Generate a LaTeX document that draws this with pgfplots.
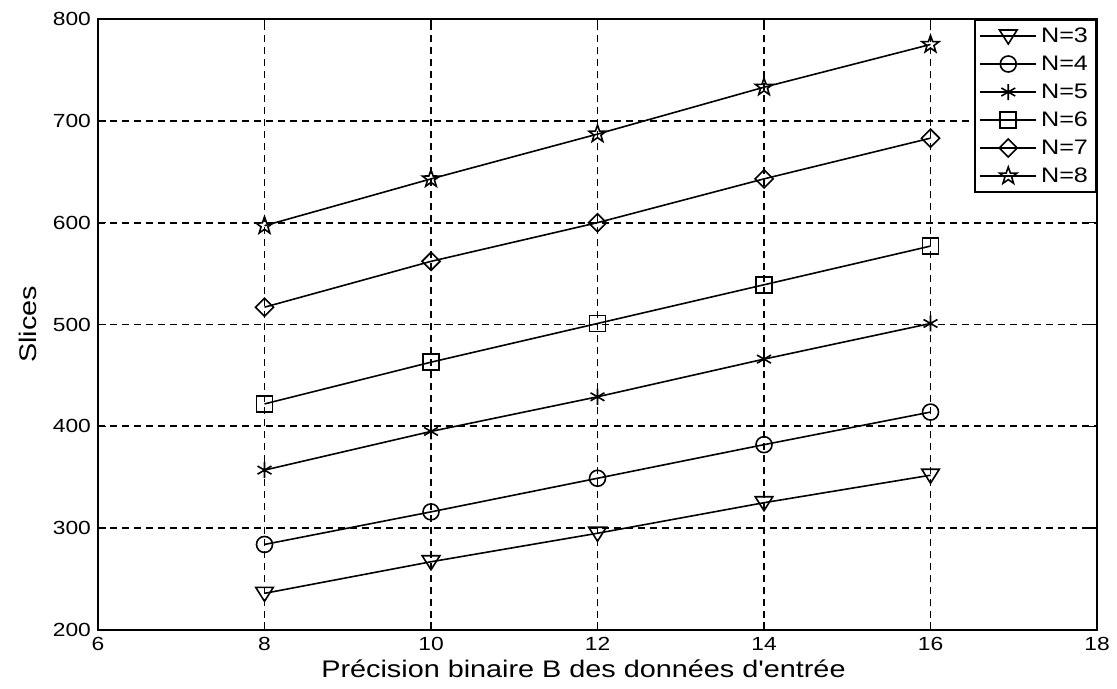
\documentclass[border=0pt]{standalone}
\usepackage{fontspec}
\setmainfont{Liberation Sans}[Ligatures=TeXOff, FakeStretch=1.2]
\usepackage{pgfplots}
\pgfplotsset{compat=1.18}
\pgfdeclareplotmark{pentagram}{%
  \pgfpathmoveto{\pgfpointpolar{90}{\pgfplotmarksize}}%
  \pgfpathlineto{\pgfpointpolar{126}{0.40\pgfplotmarksize}}%
  \pgfpathlineto{\pgfpointpolar{162}{\pgfplotmarksize}}%
  \pgfpathlineto{\pgfpointpolar{198}{0.40\pgfplotmarksize}}%
  \pgfpathlineto{\pgfpointpolar{234}{\pgfplotmarksize}}%
  \pgfpathlineto{\pgfpointpolar{270}{0.40\pgfplotmarksize}}%
  \pgfpathlineto{\pgfpointpolar{306}{\pgfplotmarksize}}%
  \pgfpathlineto{\pgfpointpolar{342}{0.40\pgfplotmarksize}}%
  \pgfpathlineto{\pgfpointpolar{18}{\pgfplotmarksize}}%
  \pgfpathlineto{\pgfpointpolar{54}{0.40\pgfplotmarksize}}%
  \pgfpathclose
  \pgfusepathqstroke
}
\pgfdeclareplotmark{vtriangle}{%
  \pgfpathmoveto{\pgfqpoint{0pt}{-\pgfplotmarksize}}%
  \pgfpathlineto{\pgfqpoint{1.1\pgfplotmarksize}{0.75\pgfplotmarksize}}%
  \pgfpathlineto{\pgfqpoint{-1.1\pgfplotmarksize}{0.75\pgfplotmarksize}}%
  \pgfpathclose
  \pgfusepathqstroke
}
\pgfdeclareplotmark{mdiamond}{%
  \pgfpathmoveto{\pgfqpoint{0pt}{\pgfplotmarksize}}%
  \pgfpathlineto{\pgfqpoint{\pgfplotmarksize}{0pt}}%
  \pgfpathlineto{\pgfqpoint{0pt}{-\pgfplotmarksize}}%
  \pgfpathlineto{\pgfqpoint{-\pgfplotmarksize}{0pt}}%
  \pgfpathclose
  \pgfusepathqstroke
}
\begin{document}
\begin{tikzpicture}
\begin{axis}[
  scale only axis,
  width=499.5pt, height=305.5pt,
  at={(0,0)}, anchor=south west,
  xmin=6, xmax=18, ymin=200, ymax=800,
  xtick={6,8,...,18}, ytick={200,300,...,800},
  axis line style={line width=1pt},
  tick align=inside,
  major tick length=4pt,
  tick style={black, line width=0.8pt},
  grid=major,
  major grid style={black, line width=0.9pt, dash pattern=on 3.5pt off 2.5pt},
  /pgf/number format/assume math mode=true,
  ticklabel style={font=\fontsize{9.5}{11}\selectfont},
  label style={font=\fontsize{12}{14}\selectfont},
  xlabel={Précision binaire B des données d'entrée},
  ylabel={Slices},
  xlabel style={yshift=2pt, xshift=-7pt},
  ylabel style={yshift=1pt},
  every axis plot/.append style={black, line width=0.8pt, mark size=4pt, mark options={solid, line width=0.8pt}},
  legend style={at={(1,1)}, anchor=north east, draw=black, line width=1pt,
    font=\fontsize{10.5}{12}\selectfont, row sep=0pt, inner xsep=2pt, inner ysep=1pt,
    nodes={text height=8pt, text depth=2pt, inner ysep=2pt},
    cells={anchor=west}},
  legend image code/.code={\draw[mark repeat=2,mark phase=2,#1] plot coordinates {(0pt,0pt) (14pt,0pt) (28pt,0pt)};},
]
\addplot[mark=vtriangle] coordinates {(8,236) (10,267) (12,295) (14,325) (16,352)};
\addlegendentry{N=3}
\addplot[mark=o] coordinates {(8,284) (10,316) (12,349) (14,382) (16,414)};
\addlegendentry{N=4}
\addplot[mark=asterisk] coordinates {(8,357) (10,395) (12,429) (14,466) (16,501)};
\addlegendentry{N=5}
\addplot[mark=square] coordinates {(8,422) (10,463) (12,501) (14,539) (16,577)};
\addlegendentry{N=6}
\addplot[mark=mdiamond, mark size=4.5pt] coordinates {(8,517) (10,562) (12,600) (14,643) (16,683)};
\addlegendentry{N=7}
\addplot[mark=pentagram, mark size=4.5pt] coordinates {(8,597) (10,643) (12,687) (14,733) (16,775)};
\addlegendentry{N=8}
\end{axis}
\path[use as bounding box] (-49pt,-29.5pt) rectangle (509.5pt,315pt);
\end{tikzpicture}
\end{document}
